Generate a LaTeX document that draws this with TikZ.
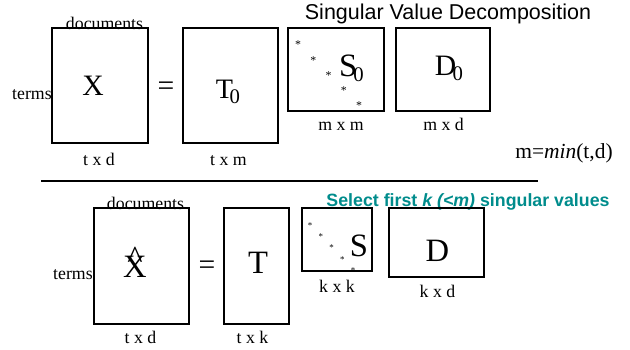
\documentclass[tikz,border=0pt]{standalone}
\usepackage{fontspec}
\setmainfont{Liberation Serif}
\newfontfamily\arialfont{Liberation Sans}
\definecolor{selteal}{RGB}{0,140,140}
\newcommand{\zerosub}{\kern-0.12em\raisebox{-3.4pt}{\fontsize{14}{14}\selectfont 0}}
\newcommand{\lowhat}[1]{\ooalign{#1\cr\hidewidth\raisebox{5.5pt}{\textasciicircum}\hidewidth\cr}}

\begin{document}
\begin{tikzpicture}[x=0.675pt, y=-0.675pt,
  matbox/.style={line width=1.3pt},
  letter/.style={anchor=base, font=\fontsize{20}{24}\selectfont},
  bigletter/.style={anchor=base, font=\fontsize{22}{26}\selectfont},
  dimlabel/.style={anchor=base, font=\fontsize{12}{14}\selectfont},
  svstar/.style={anchor=base, inner sep=0pt, font=\fontsize{8}{8}\selectfont, yshift=-4pt},
  smallstar/.style={svstar, font=\fontsize{6}{6}\selectfont, yshift=1pt}]
  \useasboundingbox (0,0) rectangle (630,349);
  % Decomposition complete
  \begin{scope}
    \node[anchor=base, font=\arialfont\fontsize{14.5}{17}\selectfont] (title) at (448,19) {Singular Value Decomposition};
    \draw[matbox] (52,28) rectangle (148,143);
    \draw[matbox] (183,28) rectangle (278,143);
    \draw[matbox] (288,28) rectangle (384,111);
    \draw[matbox] (396,28) rectangle (490,111);
    \node[dimlabel] (docs) at (104.5,29) {documents};
    \node[dimlabel, anchor=base east, inner xsep=0pt] (terms) at (52,99) {terms};
    \node[letter] (X) at (93,95) {X};
    \node[letter] (eq) at (166,95) {=};
    \node[letter, font=\fontsize{19}{23}\selectfont] (T0) at (228,98) {T\zerosub};
    \node[letter, font=\fontsize{22}{26}\selectfont] (S0) at (351.5,76) {S\zerosub};
    \node[letter] (D0) at (449,75) {D\zerosub};
    \foreach \i in {0,...,4}
      \node[svstar] (s\i) at ({298+15.3*\i},{43+15.2*\i}) {*};
    \node[dimlabel] (txd) at (99,165) {t x d};
    \node[dimlabel] (txm) at (228.5,165) {t x m};
    \node[dimlabel] (mxm) at (341,130) {m x m};
    \node[dimlabel] (mxd) at (443.5,130) {m x d};
    \node[anchor=base, font=\fontsize{14.5}{17}\selectfont] (mdef) at (564,158) {m=\textit{min}(t,d)};
  \end{scope}
  \coordinate (sepL) at (41,181);
  \coordinate (sepR) at (538,181);
  \draw[line width=0.8pt] (sepL) -- (sepR);
  % Rang k
  \begin{scope}
    \node[anchor=base, text=selteal, font=\arialfont\bfseries\fontsize{12}{14}\selectfont] (select) at (468,206) {Select first \textit{k (<m)} singular values};
    \draw[matbox] (94,208) rectangle (189,324);
    \draw[matbox] (224,208) rectangle (289,324);
    \draw[matbox] (302,208) rectangle (372,271);
    \draw[matbox] (389,208) rectangle (484,277);
    \node[dimlabel] (docsk) at (145.5,209) {documents};
    \node[dimlabel, anchor=base east, inner xsep=0pt] (termsk) at (93,279) {terms};
    \node[bigletter] (Xhat) at (135,277) {\lowhat{X}};
    \node[letter] (eqk) at (207,274) {=};
    \node[bigletter] (T) at (258,273) {T};
    \node[bigletter] (S) at (359,256) {S};
    \node[bigletter] (D) at (437.5,261) {D};
    \foreach \i in {0,...,4}
      \node[smallstar] (k\i) at ({310+10.8*\i},{224+11.2*\i}) {*};
    \node[dimlabel] (txdk) at (140.5,343) {t x d};
    \node[dimlabel] (txk) at (252.5,343) {t x k};
    \node[dimlabel] (kxk) at (337,292) {k x k};
    \node[dimlabel] (kxd) at (437.5,297) {k x d};
  \end{scope}
\end{tikzpicture}
\end{document}
